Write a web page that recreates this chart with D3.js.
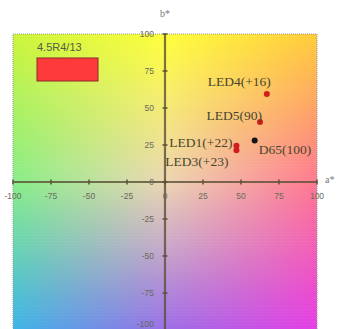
<!DOCTYPE html>
<html lang="en">
<head>
    <meta charset="UTF-8">
    <title>CIELAB a*b* plot</title>
    <script src="https://d3js.org/d3.v7.min.js"></script>
    <style>
        body { margin: 0; padding: 0; background: #fff; }
        svg { display: block; }
        .tick-label { font-family: "Liberation Sans", Arial, sans-serif; font-size: 8.5px; fill: #6a6a5a; }
        .pt-label { font-family: "Liberation Serif", "Times New Roman", serif; font-size: 13.5px; fill: #46462e; }
        .axis-title { font-family: "Liberation Serif", serif; font-size: 10px; fill: #777; }
    </style>
</head>
<body>
    <svg id="chart" width="339" height="329"></svg>

    <script>
        // tick values for both axes
        const aTicks = [-100, -75, -50, -25, 0, 25, 50, 75, 100];
        const bTicks = [-100, -75, -50, -25, 0, 25, 50, 75, 100];

        // measured points (a*, b*)
        const pointNames = ["LED4(+16)", "LED5(90)", "LED1(+22)", "LED3(+23)", "D65(100)"];
        const pointA = [67, 62.5, 47, 47, 59];
        const pointB = [59.5, 40.5, 24.5, 21.5, 28];
        const pointColors = ["#d41c1c", "#d41c1c", "#d41c1c", "#d41c1c", "#151515"];

        // legend swatch
        const legendLabel = "4.5R4/13";

        const svg = d3.select("#chart");

        const x = d3.scaleLinear().domain([-100, 100]).range([13, 317]);
        const y = d3.scaleLinear().domain([-100, 100]).range([330, 34]);

        // background colour field (3x3 corner/edge colours, bilinear blend)
        const grid = [
            ["#ccf43c", "#ffff3c", "#ffcc3c"],
            ["#88ee88", "#ecd6b4", "#ff7890"],
            ["#3cb4e8", "#9a6ee6", "#e63ce6"]
        ];
        function blend3(c, t) {
            return t < 0.5 ? d3.interpolateRgb(c[0], c[1])(t * 2) : d3.interpolateRgb(c[1], c[2])((t - 0.5) * 2);
        }
        const defs = svg.append("defs");
        const rows = d3.range(100, -100, -2);
        rows.forEach((bv, i) => {
            const t = (100 - (bv - 1)) / 200;
            const cols = [0, 1, 2].map(j => blend3(grid.map(r => r[j]), t));
            const g = defs.append("linearGradient").attr("id", "row" + i);
            g.append("stop").attr("offset", "0%").attr("stop-color", cols[0]);
            g.append("stop").attr("offset", "50%").attr("stop-color", cols[1]);
            g.append("stop").attr("offset", "100%").attr("stop-color", cols[2]);
        });
        svg.append("g").selectAll("rect")
            .data(rows)
            .join("rect")
            .attr("x", x(-100))
            .attr("y", d => y(d))
            .attr("width", x(100) - x(-100))
            .attr("height", d => y(d - 2) - y(d) + 0.6)
            .attr("fill", (d, i) => `url(#row${i})`);

        // dotted frame
        svg.append("rect")
            .attr("x", x(-100)).attr("y", y(100))
            .attr("width", x(100) - x(-100)).attr("height", y(-100) - y(100))
            .attr("fill", "none")
            .attr("stroke", "#9a9a9a")
            .attr("stroke-dasharray", "1,1");

        // axes through origin
        const axisColor = "#5a5238";
        svg.append("line")
            .attr("x1", x(-100)).attr("x2", x(100))
            .attr("y1", y(0)).attr("y2", y(0))
            .attr("stroke", axisColor).attr("stroke-width", 2.2).attr("opacity", 0.8);
        svg.append("line")
            .attr("x1", x(0)).attr("x2", x(0))
            .attr("y1", y(100)).attr("y2", y(-100))
            .attr("stroke", axisColor).attr("stroke-width", 2.2).attr("opacity", 0.8);

        // tick marks
        svg.append("g").selectAll("line")
            .data(aTicks)
            .join("line")
            .attr("x1", d => x(d)).attr("x2", d => x(d))
            .attr("y1", y(0) - 2.5).attr("y2", y(0) + 2.5)
            .attr("stroke", axisColor).attr("stroke-width", 1.5);
        svg.append("g").selectAll("line")
            .data(bTicks)
            .join("line")
            .attr("x1", x(0) - 2.5).attr("x2", x(0) + 2.5)
            .attr("y1", d => y(d)).attr("y2", d => y(d))
            .attr("stroke", axisColor).attr("stroke-width", 1.5);

        // tick labels
        svg.append("g").selectAll("text")
            .data(aTicks)
            .join("text")
            .attr("class", "tick-label")
            .attr("x", d => x(d))
            .attr("y", y(0) + 17)
            .attr("text-anchor", "middle")
            .text(d => d);
        svg.append("g").selectAll("text")
            .data(bTicks)
            .join("text")
            .attr("class", "tick-label")
            .attr("x", x(0) - 11)
            .attr("y", d => Math.min(y(d) + 3, 327))
            .attr("text-anchor", "end")
            .text(d => d);

        // axis titles
        svg.append("text").attr("class", "axis-title")
            .attr("x", x(0)).attr("y", 17).attr("text-anchor", "middle").text("b*");
        svg.append("text").attr("class", "axis-title")
            .attr("x", 325).attr("y", y(0) + 1).text("a*");

        // legend
        svg.append("text")
            .attr("x", 37).attr("y", 51)
            .style("font-family", "Liberation Sans, Arial, sans-serif")
            .style("font-size", "11px")
            .attr("fill", "#5a5a4a")
            .text(legendLabel);
        svg.append("rect")
            .attr("x", 37).attr("y", 58)
            .attr("width", 61).attr("height", 23)
            .attr("fill", "#ff3a3a")
            .attr("stroke", "#8a2a2a")
            .attr("stroke-width", 1);

        // points
        const pts = pointNames.map((n, i) => ({ name: n, a: pointA[i], b: pointB[i], color: pointColors[i] }));
        svg.append("g").selectAll("circle")
            .data(pts)
            .join("circle")
            .attr("cx", d => x(d.a))
            .attr("cy", d => y(d.b))
            .attr("r", 3)
            .attr("fill", d => d.color);

        // point labels
        const labelPos = [
            { dx: 4, dy: -8, anchor: "end" },
            { dx: 2, dy: -2, anchor: "end" },
            { dx: -4, dy: 1, anchor: "end" },
            { dx: -8, dy: 16, anchor: "end" },
            { dx: 4, dy: 13, anchor: "start" }
        ];
        svg.append("g").selectAll("text")
            .data(pts)
            .join("text")
            .attr("class", "pt-label")
            .attr("x", (d, i) => x(d.a) + labelPos[i].dx)
            .attr("y", (d, i) => y(d.b) + labelPos[i].dy)
            .attr("text-anchor", (d, i) => labelPos[i].anchor)
            .text(d => d.name);
    </script>
</body>
</html>
